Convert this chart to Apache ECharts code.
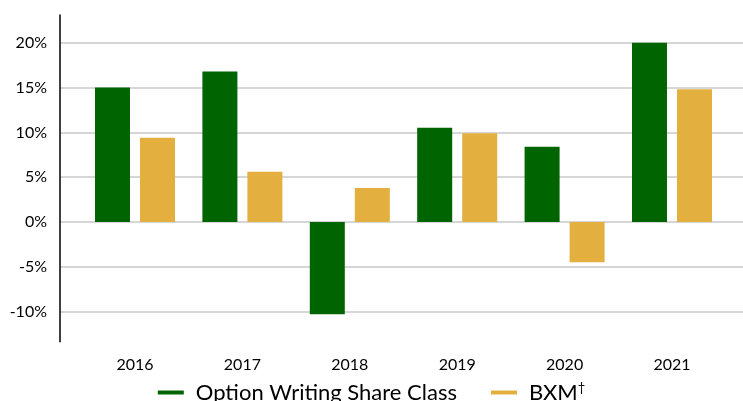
<!DOCTYPE html>
<html>
<head>
<meta charset="utf-8">
<script src="https://cdn.jsdelivr.net/npm/echarts@6/dist/echarts.min.js"></script>
<style>
html,body{margin:0;padding:0;background:#fff;}
#chart{width:743px;height:401px;}
</style>
</head>
<body>
<div id="chart"></div>
<script>
const categories = ['2016', '2017', '2018', '2019', '2020', '2021'];
const optionWriting = [15.0, 16.8, -10.3, 10.5, 8.4, 20.0];
const bxm = [9.4, 5.6, 3.8, 9.9, -4.5, 14.8];
const yTicks = [-10, -5, 0, 5, 10, 15, 20];
const yMin = -13.35;
const yMax = 23.09;

const GREEN = '#006400';
const GOLD = '#E3B040';
const FONT = 'Lato';

const chart = echarts.init(document.getElementById('chart'), null, {renderer: 'canvas'});
chart.setOption({
  animation: false,
  backgroundColor: '#ffffff',
  textStyle: {fontFamily: FONT},
  grid: [
    {left: 60, right: 0, top: 15, bottom: 59.3, containLabel: false},
    {left: 81.3, right: 17.3, top: 15, bottom: 59.3, containLabel: false}
  ],
  xAxis: [
    {gridIndex: 0, type: 'value', min: 0, max: 1, show: false},
    {
      gridIndex: 1, type: 'category', data: categories,
      axisLine: {show: false}, axisTick: {show: false},
      axisLabel: {color: '#000', fontSize: 16, fontFamily: FONT, margin: 15}
    }
  ],
  yAxis: [
    {
      gridIndex: 0, type: 'value', min: yMin, max: yMax,
      axisLine: {show: true, lineStyle: {color: '#000', width: 1.5}},
      axisTick: {show: false, customValues: yTicks},
      axisLabel: {customValues: yTicks, color: '#000', fontSize: 16, fontFamily: FONT, margin: 13,
        formatter: v => v + '%'},
      splitLine: {show: true, lineStyle: {color: '#c8c8c8', width: 1.5}}
    },
    {gridIndex: 1, type: 'value', min: yMin, max: yMax, show: false, splitLine: {show: false}}
  ],
  legend: {
    top: 381, left: 'center', padding: 0,
    icon: 'rect', itemWidth: 26, itemHeight: 4, itemGap: 34,
    textStyle: {fontFamily: FONT, fontSize: 22, color: '#000', padding: [0, 0, 0, 7],
      rich: {sup: {fontSize: 13, fontFamily: FONT, color: '#000', verticalAlign: 'top', padding: [0, 0, 10, 0]}}},
    formatter: name => name === 'BXM†' ? 'BXM{sup|†}' : name,
    data: ['Option Writing Share Class', 'BXM†']
  },
  series: [
    {
      name: 'Option Writing Share Class', type: 'bar', xAxisIndex: 1, yAxisIndex: 1,
      data: optionWriting, barWidth: 35, barGap: '28.6%',
      itemStyle: {color: GREEN}
    },
    {
      name: 'BXM†', type: 'bar', xAxisIndex: 1, yAxisIndex: 1,
      data: bxm, barWidth: 35, barGap: '28.6%',
      itemStyle: {color: GOLD}
    }
  ]
});
</script>
</body>
</html>
